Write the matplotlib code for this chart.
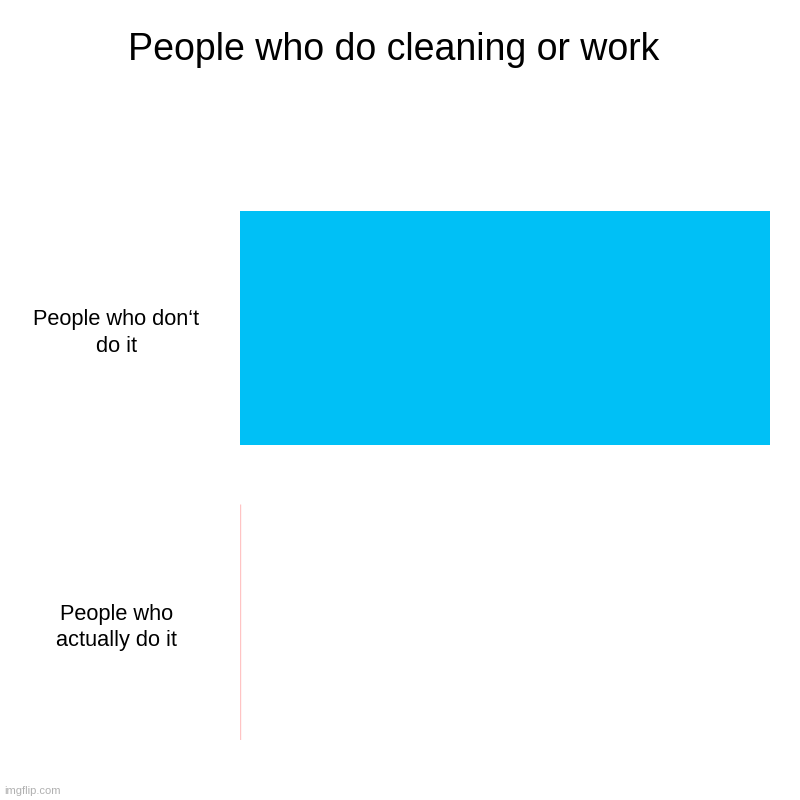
import matplotlib
matplotlib.use("Agg")
import matplotlib.pyplot as plt

plt.rcParams['font.family'] = ['Liberation Sans', 'DejaVu Sans']

categories = ["People who\nactually do it", "People who don\u2018t\ndo it"]
values = [0, 100]
colors = ["#ffc4c4", "#00c0f6"]

fig = plt.figure(figsize=(8, 8), dpi=100)
ax = fig.add_axes([0.30, 0.075, 0.6625, 0.6625])

for i, (v, c) in enumerate(zip(values, colors)):
    if v == 0:
        # empty bar shows only as a thin outline
        ax.barh(i, v, height=0.8, color=c, edgecolor=c, linewidth=1)
    else:
        ax.barh(i, v, height=0.795, color=c, linewidth=0)

ax.set_xlim(0, 100)
ax.set_ylim(-0.4, 1.4)
ax.set_yticks(range(len(categories)))
ax.set_yticklabels(categories, ha='center', fontsize=15.7, linespacing=1.35)
ax.tick_params(axis='y', length=0, pad=89)
ax.set_xticks([])
for s in ax.spines.values():
    s.set_visible(False)

fig.text(0.4925, 0.937, "People who do cleaning or work", ha='center', va='center', fontsize=27)
fig.text(0.005, 0.011, "imgflip.com", ha='left', va='center', fontsize=8, color='#b0b0b0')

fig.savefig("out.png", dpi=100)
